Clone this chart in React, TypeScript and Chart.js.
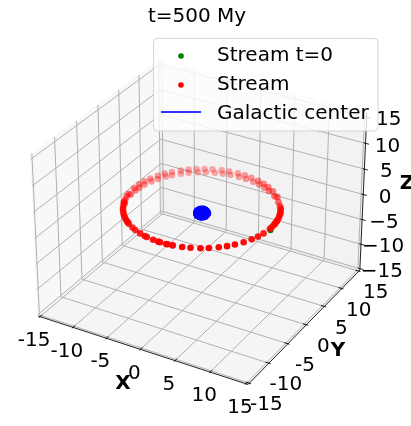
import React, { useEffect, useRef } from "react";
import Chart from "chart.js/auto";

const titleText = "t=500 My";
const axisTicks = [-15, -10, -5, 0, 5, 10, 15];
const xTickLabels = ["-15", "-10", "-5", "0", "5", "10", "15"];
const yTickLabels = ["-15", "-10", "-5", "0", "5", "10", "15"];
const zTickLabels = ["\u221215", "\u221210", "\u22125", "0", "5", "10", "15"];
const legendLabels = ["Stream t=0", "Stream", "Galactic center"];

// Stream particles on their orbit: angle around the centre (degrees), radius and height (kpc)
const orbitRadius = 10;
const frontAngles = [29, 27, 24, 22, 20, 17, 14, 11, 10, 7, 6, 4, 1, -2, -10, -16, -22, -29, -36, -42, -48, -55, -61, -68, -74, -81, -85, -86, -91, -92.5, -97, -103, -105, -110, -116, -120, -126, -128, -130, -133, -136, -139, -142, -145, -148, -150, -154, -158, -162];
const frontHeight = 1.65;
const upperBackAngles = [45, 54, 61, 67, 73, 80, 86, 92, 99, 105, 112, 118, 124, 130, 136, 143, 149, 155, 162, 168, 174, 181, 190, 194, 203];
const upperBackHeight = 1.8;
const lowerBackAngles = [36, 42, 51, 60, 66, 72, 78, 85, 91, 98, 104, 110, 117, 123, 130, 136, 143, 148, 155, 161, 168, 174, 179, 186, 200];
const lowerBackHeight = 1.15;
const initialStream = { x: 10, y: -0.2, z: 1.25 };

// Galactic centre: wireframe sphere
const centerRadius = 1;
const centerHeight = 0.6;
const centerLatitudes = [-75, -60, -45, -30, -15, 0, 15, 30, 45, 60, 75];
const centerLongitudes = [0, 20, 40, 60, 80, 100, 120, 140, 160, 180, 200, 220, 240, 260, 280, 300, 320, 340, 360];

type P3 = [number, number, number];

const PANE = 15.3;
const PANE_TOP = 15.9;
const BOX_XY = 1.1429 / 30;
const BOX_Z = 0.857 / 30;
const N: P3 = [0.433, -0.75, 0.5];
const U: P3 = [0.866, 0.5, 0];
const V: P3 = [-0.25, 0.433, 0.866];
const SX = 2105;
const SY = 2105;
const OX = 201.8;
const OY = 216.2;
const W = 411;
const H = 426;

const dot = (a: P3, b: P3) => a[0] * b[0] + a[1] * b[1] + a[2] * b[2];
const toBox = (p: P3): P3 => [p[0] * BOX_XY, p[1] * BOX_XY, p[2] * BOX_Z];
const project = (p: P3) => {
  const d = toBox(p);
  const w = 10 - dot(N, d);
  return { x: dot(U, d) / w, y: dot(V, d) / w };
};
const depth = (p: P3) => dot(N, toBox(p));
const rad = (a: number) => (a * Math.PI) / 180;
const ring = (angle: number, z: number): P3 => [orbitRadius * Math.cos(rad(angle)), orbitRadius * Math.sin(rad(angle)), z];

function buildDatasets() {
  const ds: any[] = [];
  const poly = (pts: P3[], color: string, width: number, fillColor?: string) =>
    ds.push({
      data: pts.map(project),
      showLine: true,
      borderColor: color,
      borderWidth: width,
      pointRadius: 0,
      tension: 0,
      fill: fillColor ? "shape" : false,
      backgroundColor: fillColor ?? "transparent",
    });
  const a = PANE;
  const top = PANE_TOP;
  const xPane = "rgba(242,242,242,0.5)";
  const yPane = "rgba(230,230,230,0.5)";
  const zPane = "rgba(236,236,236,0.5)";
  poly([[-a, -a, -a], [-a, a, -a], [-a, a, top], [-a, -a, top], [-a, -a, -a]], xPane, 1, xPane);
  poly([[-a, a, -a], [a, a, -a], [a, a, top], [-a, a, top], [-a, a, -a]], yPane, 1, yPane);
  poly([[-a, -a, -a], [a, -a, -a], [a, a, -a], [-a, a, -a], [-a, -a, -a]], zPane, 1, zPane);

  const grid = "rgb(176,176,176)";
  for (const t of axisTicks) {
    poly([[t, -a, -a], [t, a, -a], [t, a, top]], grid, 1);
    poly([[a, t, -a], [-a, t, -a], [-a, t, top]], grid, 1);
    poly([[-a, -a, t], [-a, a, t], [a, a, t]], grid, 1);
  }
  const ink = "rgba(0,0,0,0.85)";
  poly([[-a, -a, -a], [a, -a, -a]], ink, 1);
  poly([[a, -a, -a], [a, a, -a]], ink, 1);
  poly([[a, a, -a], [a, a, top]], ink, 1);
  for (const t of axisTicks) {
    poly([[t, -a - 0.25, -a], [t, -a + 0.5, -a]], ink, 1);
    poly([[a + 0.25, t, -a], [a - 0.5, t, -a]], ink, 1);
    poly([[a + 0.5, a, t], [a - 0.25, a, t]], ink, 1);
  }

  ds.push({
    data: [project([initialStream.x, initialStream.y, initialStream.z])],
    showLine: false,
    pointRadius: 3,
    pointBorderWidth: 0,
    pointBackgroundColor: "#008000",
  });

  const stream: P3[] = [
    ...upperBackAngles.map((t) => ring(t, upperBackHeight)),
    ...lowerBackAngles.map((t) => ring(t, lowerBackHeight)),
    ...frontAngles.map((t) => ring(t, frontHeight)),
  ].sort((p, q) => depth(p) - depth(q));
  const ds0 = stream.map(depth);
  const dMin = Math.min(...ds0);
  const dMax = Math.max(...ds0);
  ds.push({
    data: stream.map(project),
    showLine: false,
    pointRadius: 3.3,
    pointBorderWidth: 0,
    pointBackgroundColor: ds0.map((d) => `rgba(255,0,0,${(1 - 0.7 * (dMax - d) / (dMax - dMin)).toFixed(3)})`),
  });

  const spherePoint = (lat: number, lon: number): P3 => [
    centerRadius * Math.cos(rad(lat)) * Math.cos(rad(lon)),
    centerRadius * Math.cos(rad(lat)) * Math.sin(rad(lon)),
    centerHeight + centerRadius * Math.sin(rad(lat)),
  ];
  const blue = "#0000ff";
  for (const lat of centerLatitudes) poly(centerLongitudes.map((lon) => spherePoint(lat, lon)), blue, 2);
  for (const lon of centerLongitudes) poly([-90, ...centerLatitudes, 90].map((lat) => spherePoint(lat, lon)), blue, 2);
  poly(centerLongitudes.map((lon) => spherePoint(0, lon)), blue, 2, blue);

  return ds.map((d, i) => ({ ...d, order: ds.length - i }));
}

const FONT = '"DejaVu Sans"';
const px = (p: P3, chart: any) => ({
  x: chart.scales.x.getPixelForValue(project(p).x),
  y: chart.scales.y.getPixelForValue(project(p).y),
});

const textPlugin = {
  id: "axes3dText",
  afterDatasetsDraw(chart: any) {
    const c = chart.ctx as CanvasRenderingContext2D;
    c.save();
    c.fillStyle = "#000";
    c.textAlign = "center";
    c.textBaseline = "middle";
    c.font = `20px ${FONT}`;
    axisTicks.forEach((t, i) => {
      const a = px([t, -PANE, -PANE], chart);
      c.fillText(xTickLabels[i], a.x - 6, a.y + 24);
      const b = px([PANE, t, -PANE], chart);
      c.fillText(yTickLabels[i], b.x + 17, b.y + 22);
      const z = px([PANE, PANE, t], chart);
      c.fillText(zTickLabels[i], z.x + 22, z.y + 3);
    });
    c.font = `bold 20px ${FONT}`;
    c.fillText("X", 123, 384);
    c.fillText("Y", 338, 351);
    c.fillText("Z", 407, 184);
    c.font = `20px ${FONT}`;
    c.textBaseline = "alphabetic";
    c.fillText(titleText, 197, 22);

    // legend
    c.beginPath();
    c.roundRect(153.5, 38.5, 224.5, 92.5, 4);
    c.fillStyle = "rgba(255,255,255,0.8)";
    c.fill();
    c.strokeStyle = "rgba(204,204,204,0.8)";
    c.lineWidth = 1;
    c.stroke();
    c.fillStyle = "#008000";
    c.beginPath();
    c.arc(181, 56, 2.8, 0, Math.PI * 2);
    c.fill();
    c.fillStyle = "#ff0000";
    c.beginPath();
    c.arc(181, 85, 2.8, 0, Math.PI * 2);
    c.fill();
    c.strokeStyle = "rgba(0,0,255,0.8)";
    c.lineWidth = 2;
    c.beginPath();
    c.moveTo(161, 112);
    c.lineTo(201, 112);
    c.stroke();
    c.fillStyle = "#000";
    c.textAlign = "left";
    legendLabels.forEach((s, i) => c.fillText(s, 217, 61 + i * 29));
    c.restore();
  },
};

export default function App() {
  const ref = useRef<HTMLCanvasElement>(null);
  useEffect(() => {
    const chart = new Chart(ref.current!, {
      type: "scatter",
      data: { datasets: buildDatasets() },
      options: {
        animation: false,
        responsive: false,
        events: [],
        layout: { padding: 0 },
        plugins: { legend: { display: false }, tooltip: { enabled: false }, title: { display: false } },
        scales: {
          x: { type: "linear", display: false, min: -OX / SX, max: (W - OX) / SX },
          y: { type: "linear", display: false, min: (OY - H) / SY, max: OY / SY },
        },
      },
      plugins: [textPlugin],
    } as any);
    return () => chart.destroy();
  }, []);
  return <canvas ref={ref} width={W} height={H} style={{ position: "absolute", left: 0, top: 0, width: W, height: H, display: "block" }} />;
}
